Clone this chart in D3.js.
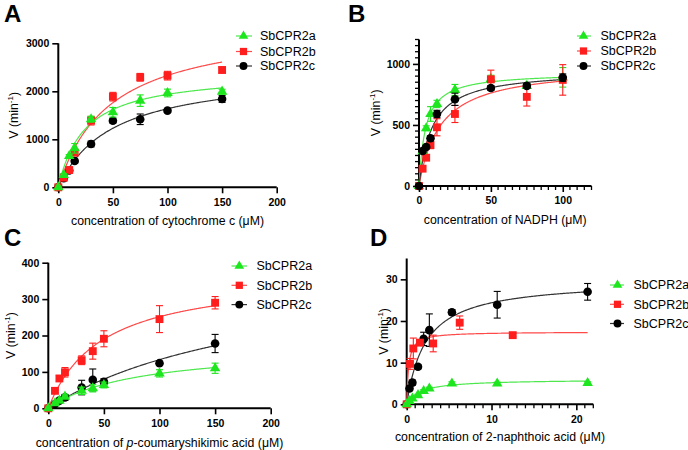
<!DOCTYPE html>
<html><head><meta charset="utf-8">
<script src="https://cdn.jsdelivr.net/npm/d3@7"></script>
<style>
body{margin:0;background:#fff}
text{font-family:"Liberation Sans",Arial,Helvetica,sans-serif;fill:#000}
</style>
</head><body><svg id="c" width="688" height="450"></svg>
<script>
// ---------- DATA ----------
const seriesNames = ["SbCPR2a", "SbCPR2b", "SbCPR2c"];

// Panel A: cytochrome c
const cytX   = [0, 5, 10, 15, 30, 50, 75, 100, 150];
const cytA   = [0, 256, 652, 812, 1417, 1563, 1805, 1965, 1993];
const cytAe  = [0, 30, 30, 100, 60, 100, 120, 80, 50];
const cytB   = [0, 200, 360, 721, 1388, 1888, 2292, 2326, 2444];
const cytBe  = [0, 30, 30, 60, 90, 90, 80, 90, 60];
const cytC   = [0, 187, 350, 548, 902, 1388, 1417, 1597, 1840];
const cytCe  = [0, 20, 20, 40, 60, 50, 110, 40, 70];
const cytVmax = [2404, 3436, 2447];
const cytKm   = [24.2, 47.5, 49.5];
const cytXTicks = [0, 50, 100, 150, 200];
const cytYTicks = [0, 1000, 2000, 3000];

// Panel B: NADPH
const nadX   = [0, 2.5, 5, 8, 12.5, 25, 50, 75, 100];
const nadA   = [0, 285, 473, 590, 672, 787, 877, 820, 890];
const nadAe  = [0, 15, 20, 60, 30, 45, 30, 20, 80];
const nadB   = [0, 142, 232, 336, 481, 590, 874, 730, 869];
const nadBe  = [0, 15, 20, 30, 70, 70, 75, 75, 125];
const nadC   = [0, 287, 320, 391, 590, 710, 803, 820, 888];
const nadCe  = [0, 15, 15, 20, 30, 50, 20, 20, 30];
const nadVmax = [930, 987, 950];
const nadKm   = [4.5, 14.8, 9];
const nadXTicks = [0, 50, 100];
const nadYTicks = [0, 500, 1000];

// Panel C: p-coumaryshikimic acid
const pcsX   = [0, 6, 10, 15, 30, 40, 50, 100, 150];
const pcsA   = [0, 14, 21, 32, 48, 55, 64, 96, 110];
const pcsAe  = [0, 3, 4, 5, 10, 10, 8, 10, 14];
const pcsB   = [0, 48, 82, 99, 132, 157, 191, 245, 290];
const pcsBe  = [0, 5, 8, 13, 12, 22, 22, 37, 17];
const pcsC   = [0, 12, 21, 30, 57, 78, 73, 124, 178];
const pcsCe  = [0, 3, 5, 8, 20, 30, 8, 5, 25];
const pcsVmax = [172, 372, 405];
const pcsKm   = [80.3, 47.9, 203];
const pcsXTicks = [0, 50, 100, 150, 200];
const pcsYTicks = [0, 100, 200, 300, 400];

// Panel D: 2-naphthoic acid
const naXa   = [0, 0.33, 0.67, 1.33, 2, 2.67, 5.33, 10.67, 21.33];
const naA    = [0, 0.8, 1.4, 2.2, 3.2, 3.8, 5.0, 5.0, 5.1];
const naAe   = [0, 0.2, 0.2, 0.2, 0.3, 0.3, 0.4, 0.3, 0.3];
const naXb   = [0, 0.39, 0.78, 1.56, 3.125, 6.25, 12.5];
const naB    = [0, 9.7, 13.4, 14.8, 14.6, 19.6, 16.6];
const naBe   = [0, 1.3, 2.5, 0.5, 2.0, 1.6, 0.4];
const naXc   = [0, 0.33, 0.67, 1.33, 2, 2.67, 5.33, 10.67, 21.33];
const naC    = [0, 3.8, 5.2, 9.0, 15.7, 17.8, 22.1, 23.9, 27.0];
const naCe   = [0, 0.5, 0.6, 0.5, 1.6, 3.9, 0.6, 3.2, 2.0];
const naVmax = [6.0, 17.4, 29.85];
const naKm   = [1.6, 0.22, 2.25];
const naXTicks = [0, 10, 20];
const naYTicks = [0, 10, 20, 30];

// ---------- STYLE ----------
const colors = ["#1ee61e", "#ff1e1e", "#000000"];
const curveColors = ["#4ee84e", "#ff4a4a", "#333333"];
const symbols = [d3.symbolTriangle, d3.symbolSquare, d3.symbolCircle];
const symSize = [48, 62, 58];

const panels = [
  { letter: "A", lx: 4, ly: 22, xMax: 200, yMax: 3000, x0: 58.3, x1: 276.7, y0: 187.3, y1: 43.3,
    xTicks: cytXTicks, yTicks: cytYTicks, xMinor: [], yMinor: [],
    series: [[cytX, cytA, cytAe], [cytX, cytB, cytBe], [cytX, cytC, cytCe]],
    vmax: cytVmax, km: cytKm, fitMax: [150, 150, 150], order: [2, 1, 0],
    xTitle: [["concentration of cytochrome c (μM)", false]], xTitleY: 224.5, yTitleX: 13.5,
    leg: { m: 243.5, l0: 236, l1: 252, t: 260, rows: [36, 51.5, 66] } },
  { letter: "B", lx: 348, ly: 22, xMax: 120, yMax: 1200, x0: 419, x1: 591.5, y0: 186, y1: 39.5,
    xTicks: nadXTicks, yTicks: nadYTicks, xMinor: d3.range(5, 121, 5), yMinor: d3.range(50, 1201, 50),
    series: [[nadX, nadA, nadAe], [nadX, nadB, nadBe], [nadX, nadC, nadCe]],
    vmax: nadVmax, km: nadKm, fitMax: [100, 100, 100], order: [0, 1, 2],
    xTitle: [["concentration of NADPH (μM)", false]], xTitleY: 223.5, yTitleX: 376,
    leg: { m: 583.5, l0: 577, l1: 591, t: 600.5, rows: [36, 51, 66] } },
  { letter: "C", lx: 4, ly: 246, xMax: 200, yMax: 400, x0: 48.3, x1: 270.7, y0: 408.3, y1: 262.7,
    xTicks: pcsXTicks, yTicks: pcsYTicks, xMinor: [], yMinor: [],
    series: [[pcsX, pcsA, pcsAe], [pcsX, pcsB, pcsBe], [pcsX, pcsC, pcsCe]],
    vmax: pcsVmax, km: pcsKm, fitMax: [150, 150, 150], order: [2, 1, 0],
    xTitle: [["concentration of ", false], ["p", true], ["-coumaryshikimic acid (μM)", false]], xTitleY: 446.5, yTitleX: 11,
    leg: { m: 239.3, l0: 231.5, l1: 247, t: 256.5, rows: [266, 285.3, 304.6] } },
  { letter: "D", lx: 370, ly: 246, xMax: 22, yMax: 35, x0: 406.7, x1: 593.3, y0: 404.3, y1: 258.5,
    xTicks: naXTicks, yTicks: naYTicks, xMinor: d3.range(1, 23, 1), yMinor: [],
    series: [[naXa, naA, naAe], [naXb, naB, naBe], [naXc, naC, naCe]],
    vmax: naVmax, km: naKm, fitMax: [21.33, 21.33, 21.33], order: [2, 1, 0],
    xTitle: [["concentration of 2-naphthoic acid (μM)", false]], xTitleY: 441, yTitleX: 383.5,
    leg: { m: 617.5, l0: 610, l1: 624, t: 633.5, rows: [285, 304.3, 323.5] } }
];

const svg = d3.select("#c");

function drawPanel(p) {
  const g = svg.append("g");
  const x = d3.scaleLinear().domain([0, p.xMax]).range([p.x0, p.x1]);
  const y = d3.scaleLinear().domain([0, p.yMax]).range([p.y0, p.y1]);

  // panel letter
  g.append("text").attr("x", p.lx).attr("y", p.ly).attr("font-size", 24).attr("font-weight", "bold")
    .attr("font-family", "'Liberation Sans',Arial,sans-serif").text(p.letter);

  // x axis
  const xa = g.append("g").attr("transform", `translate(0,${p.y0})`)
    .call(d3.axisBottom(x).tickValues(p.xTicks).tickSize(6).tickSizeOuter(0).tickPadding(5).tickFormat(d3.format("d")));
  xa.select(".domain").attr("stroke-width", 2).attr("d", `M${p.x0 - 1},0H${p.x1}`);
  xa.selectAll(".tick line").attr("stroke-width", 1.6);
  xa.selectAll("text").attr("font-size", 10.5).attr("font-weight", "bold").attr("font-family", "'Liberation Sans',Arial,sans-serif");
  xa.append("g").selectAll("line").data(p.xMinor.filter(v => !p.xTicks.includes(v))).join("line")
    .attr("x1", d => x(d)).attr("x2", d => x(d)).attr("y1", 0).attr("y2", 4)
    .attr("stroke", "#000").attr("stroke-width", 1.3);

  // y axis
  const ya = g.append("g").attr("transform", `translate(${p.x0},0)`)
    .call(d3.axisLeft(y).tickValues(p.yTicks).tickSize(6).tickSizeOuter(0).tickPadding(3).tickFormat(d3.format("d")));
  ya.select(".domain").attr("stroke-width", 2).attr("d", `M0,${p.y0 + 1}V${p.y1}`);
  ya.selectAll(".tick line").attr("stroke-width", 1.6);
  ya.selectAll("text").attr("font-size", 10.5).attr("font-weight", "bold").attr("font-family", "'Liberation Sans',Arial,sans-serif");
  ya.append("g").selectAll("line").data(p.yMinor.filter(v => !p.yTicks.includes(v))).join("line")
    .attr("y1", d => y(d)).attr("y2", d => y(d)).attr("x1", 0).attr("x2", -4)
    .attr("stroke", "#000").attr("stroke-width", 1.3);

  // x title
  const xt = g.append("text").attr("x", (p.x0 + p.x1) / 2).attr("y", p.xTitleY)
    .attr("text-anchor", "middle").attr("font-size", 12.3);
  p.xTitle.forEach(([s, it]) => xt.append("tspan").attr("font-style", it ? "italic" : "normal").text(s));

  // y title
  const yt = g.append("text").attr("transform", `translate(${p.yTitleX},${(p.y0 + p.y1) / 2}) rotate(-90)`)
    .attr("text-anchor", "middle").attr("dy", "0.35em").attr("font-size", 12.3);
  yt.append("tspan").text("V (min");
  yt.append("tspan").attr("font-size", 8).attr("dy", -5).text("-1");
  yt.append("tspan").attr("dy", 5).text(")");

  const clip = g.append("g");

  // fits, error bars, markers
  p.order.forEach(i => {
    const [xs, ys, es] = p.series[i];
    const fx = d3.range(0, 201).map(k => k / 200 * p.fitMax[i]);
    clip.append("path")
      .datum(fx)
      .attr("fill", "none").attr("stroke", curveColors[i]).attr("stroke-width", 1.2)
      .attr("d", d3.line().x(s => x(s)).y(s => y(p.vmax[i] * s / (p.km[i] + s))));
  });
  p.order.forEach(i => {
    const [xs, ys, es] = p.series[i];
    const pts = xs.map((v, k) => ({ x: v, y: ys[k], e: es[k] }));
    const eb = clip.append("g").attr("stroke", colors[i]).attr("stroke-width", 1.1);
    pts.filter(d => d.e > 0).forEach(d => {
      eb.append("line").attr("x1", x(d.x)).attr("x2", x(d.x)).attr("y1", y(d.y - d.e)).attr("y2", y(d.y + d.e));
      [d.y - d.e, d.y + d.e].forEach(v => eb.append("line")
        .attr("x1", x(d.x) - 3.5).attr("x2", x(d.x) + 3.5).attr("y1", y(v)).attr("y2", y(v)));
    });
    clip.append("g").selectAll("path").data(pts).join("path")
      .attr("transform", d => `translate(${x(d.x)},${y(d.y)})`)
      .attr("d", d3.symbol().type(symbols[i]).size(symSize[i]))
      .attr("fill", colors[i]);
  });

  // legend
  const L = p.leg;
  seriesNames.forEach((name, i) => {
    const lg = g.append("g");
    lg.append("line").attr("x1", L.l0).attr("x2", L.l1).attr("y1", L.rows[i]).attr("y2", L.rows[i])
      .attr("stroke", curveColors[i]).attr("stroke-width", 1.2);
    lg.append("path").attr("transform", `translate(${L.m},${L.rows[i]})`)
      .attr("d", d3.symbol().type(symbols[i]).size(symSize[i] * 0.85)).attr("fill", colors[i]);
    lg.append("text").attr("x", L.t).attr("y", L.rows[i]).attr("dy", "0.35em")
      .attr("font-size", 12.5).text(name);
  });
}

panels.forEach(drawPanel);
</script></body></html>
